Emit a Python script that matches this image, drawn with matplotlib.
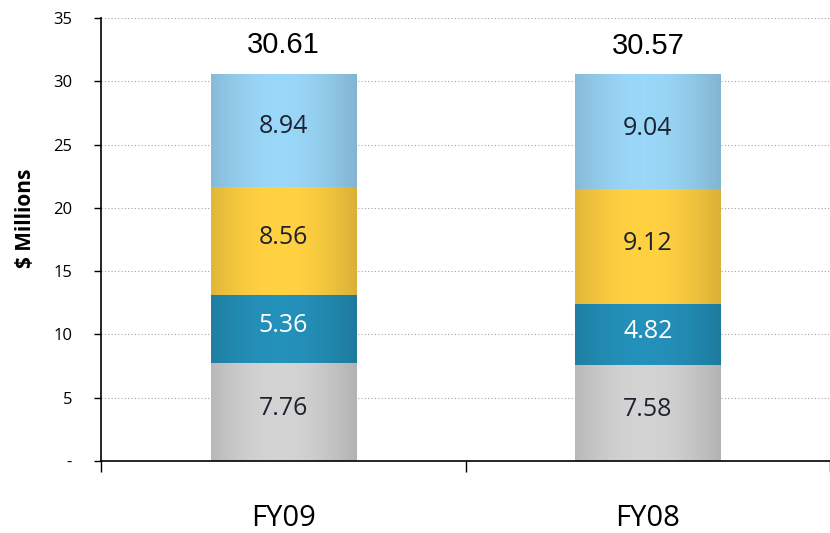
import numpy as np
import matplotlib
matplotlib.use("Agg")
import matplotlib.pyplot as plt
from matplotlib.patches import Rectangle

years = ["FY09", "FY08"]
gray_part = [7.76, 7.58]
teal_part = [5.36, 4.82]
gold_part = [8.56, 9.12]
sky_part = [8.94, 9.04]
totals = [30.61, 30.57]
ytick_vals = [0, 5, 10, 15, 20, 25, 30, 35]
ytick_text = ["-", "5", "10", "15", "20", "25", "30", "35"]

layers = [
    (gray_part, "#c8c8c8", "#1c2330"),
    (teal_part, "#2289b0", "white"),
    (gold_part, "#f4c63e", "#1c2330"),
    (sky_part, "#92cbea", "#1c2330"),
]

plt.rcParams["font.family"] = ["Open Sans", "DejaVu Sans"]

fig = plt.figure(figsize=(8.3, 5.33), dpi=100)
ax = fig.add_axes([0.122, 0.135, 0.878, 0.831])

x = np.arange(len(years))
width = 0.4

# horizontal shading so the bars look rounded
shade = np.linspace(0, 1, 200)
shade = 0.86 + 0.2 * np.sin(np.pi * (shade * 0.85 + 0.1))

bottom = np.zeros(len(years))
for vals, color, txt in layers:
    vals = np.array(vals)
    base = np.array(matplotlib.colors.to_rgb(color))
    for i in range(len(years)):
        x0 = x[i] - width / 2
        rect = Rectangle((x0, bottom[i]), width, vals[i], facecolor="none",
                         edgecolor="none")
        ax.add_patch(rect)
        grad = np.clip(base[None, None, :] * shade[None, :, None], 0, 1)
        im = ax.imshow(grad, extent=[x0, x0 + width, bottom[i], bottom[i] + vals[i]],
                       aspect="auto", zorder=2, interpolation="bilinear")
        im.set_clip_path(rect)
        ax.text(x[i], bottom[i] + vals[i] / 2 + 0.25, "%.2f" % vals[i], ha="center",
                va="center", fontsize=18, color=txt, zorder=3)
    bottom += vals

for i, t in enumerate(totals):
    ax.text(x[i], t + 1.6, "%.2f" % t, ha="center", va="baseline", fontsize=21,
            color="black", family="Liberation Sans", zorder=3)

ax.set_xlim(-0.5, len(years) - 0.5)
ax.set_ylim(0, 35)
ax.set_yticks(ytick_vals)
ax.set_yticklabels(ytick_text, fontsize=12)
ax.set_xticks([-0.5, 0.5, 1.5])
ax.set_xticklabels([])
ax.set_xticks(x, minor=True)
ax.set_xticklabels(years, minor=True, fontsize=21)
ax.tick_params(axis="x", which="minor", length=0, pad=31)
ax.tick_params(axis="x", which="major", length=8, width=1)
ax.tick_params(axis="y", length=5, width=1, pad=16)
ax.set_ylabel("$ Millions", fontsize=15, fontweight="bold")
ax.yaxis.set_label_coords(-0.089, 0.549)

ax.yaxis.grid(True, linestyle=(0, (1, 2)), color="#a0a0a0", linewidth=0.8)
ax.set_axisbelow(True)
for s in ["top", "right"]:
    ax.spines[s].set_visible(False)
ax.spines["left"].set_linewidth(1.2)
ax.spines["bottom"].set_linewidth(1.2)

plt.savefig("out.png", dpi=100)
print("wrote out.png")
